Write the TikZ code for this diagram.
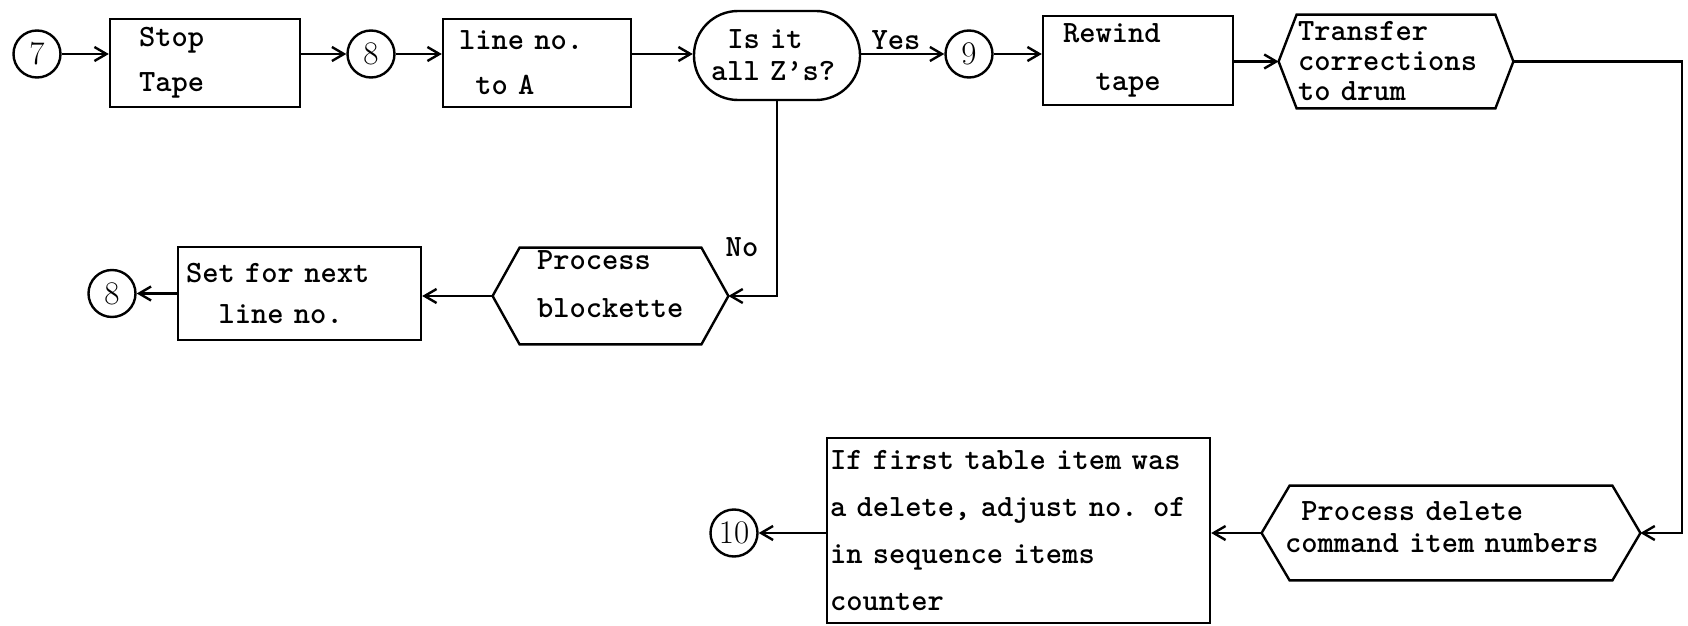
\documentclass[tikz,border=0pt]{standalone}
\usepackage{fontspec}
\usetikzlibrary{arrows.meta,calc}
\newcommand\hexoutline[2]{\draw[ln] (#1.west) -- ([xshift=#2]#1.north west) -- ([xshift=-#2]#1.north east) -- (#1.east) -- ([xshift=-#2]#1.south east) -- ([xshift=#2]#1.south west) -- cycle;}
\protected\def\twsp{\fontdimen2\font=0.525em\fontdimen3\font=0pt\fontdimen4\font=0pt\fontdimen7\font=0pt\relax}
\begin{document}
\begin{tikzpicture}[x=0.5pt,y=-0.5pt,
  ln/.style={line width=1.2pt},
  arr/.style={ln,-{Straight Barb[length=6pt,width=7pt]}},
  txt/.style={font=\ttfamily\bfseries\fontsize{15.5}{#1}\selectfont\twsp},
  circ/.style={circle, draw, ln, minimum size=23.5pt, inner sep=0pt, font=\rmfamily\fontsize{16.5}{18}\selectfont},
  rectbox/.style={rectangle, draw, ln, inner sep=0pt, align=left},
  stadium/.style={rectangle, draw, ln, rounded corners=22pt, inner sep=0pt, align=left},
  hexn/.style={rectangle, draw=none, inner sep=0pt, align=left},
  lbl/.style={txt=15pt, inner sep=0pt}]
\useasboundingbox (0,0) rectangle (1688,626);

% top row
\node[circ] (c7) at (37,54) {7};
\node[rectbox, minimum width=95pt, minimum height=44pt, text width=66pt, txt=22.5pt] (stop) at (205,63) {Stop\\Tape};
\node[circ] (c8) at (371,54) {8};
\node[rectbox, minimum width=94pt, minimum height=44pt, text width=78pt, txt=22.5pt] (line) at (537,63) {line no.\\\phantom{x}to A};
\node[stadium, minimum width=83pt, minimum height=44.5pt, text width=66pt, txt=16pt] (stad) at (777,55.5) {\phantom{x}Is it\\all Z’s?};
\node[lbl] (yes) at (896,40) {Yes};
\node[circ] (c9) at (969,54) {9};
\node[rectbox, minimum width=95pt, minimum height=44.5pt, text width=75pt, txt=24pt] (rew) at (1138,60.5) {Rewind\\\phantom{xx}tape};
\node[hexn, minimum width=117pt, minimum height=46.5pt, text width=98pt, txt=15pt] (xfer) at (1396,61.5) {Transfer\\corrections\\to drum};
\hexoutline{xfer}{9pt}
\coordinate (rc) at (1682,61.5);

% bottom right
\node[hexn, minimum width=189pt, minimum height=47pt, text width=166pt, text depth=22pt, txt=16pt] (pdel) at (1451,533) {\phantom{x}Process delete\\command item numbers};
\hexoutline{pdel}{14pt}
\node[rectbox, minimum width=191.5pt, minimum height=92.5pt, text width=188.5pt, txt=23.5pt] (big) at (1018.5,530.5) {If first table item was\\a delete, adjust no. of\\in sequence items\\counter};
\node[circ] (c10) at (734,533) {10};

% middle left
\node[hexn, minimum width=117.5pt, minimum height=48pt, text width=73.5pt, text depth=36pt, txt=24pt] (blk) at (610.5,296) {Process\\blockette};
\hexoutline{blk}{13.5pt}
\node[lbl] (no) at (742,247) {No};
\node[rectbox, minimum width=121.5pt, minimum height=46.5pt, text width=113.5pt, txt=20.5pt] (setb) at (299.5,293.5) {Set for next\\\phantom{xx}line no.};
\node[circ] (c8b) at (112,293.5) {8};

% connectors
\draw[arr] (c7.east) -- (c7.east -| stop.west);
\draw[arr] (stop.east |- c8) -- (c8.west);
\draw[arr] (c8.east) -- (c8.east -| line.west);
\draw[arr] (line.east |- c8) -- (stad.west |- c8);
\draw[arr] (stad.east |- c9) -- (c9.west);
\draw[arr] (c9.east) -- (c9.east -| rew.west);
\draw[arr] (rew.east |- xfer.west) -- (xfer.west);
\draw[arr] (xfer.east) -- (rc) |- (pdel.east);
\draw[arr] (pdel.west) -- (pdel.west -| big.east);
\draw[arr] (big.west |- c10) -- (c10.east);
\draw[arr] (stad.south) |- (blk.east);
\draw[arr] (blk.west) -- (blk.west -| setb.east);
\draw[arr] (setb.west) -- (c8b.east);
\end{tikzpicture}
\end{document}
